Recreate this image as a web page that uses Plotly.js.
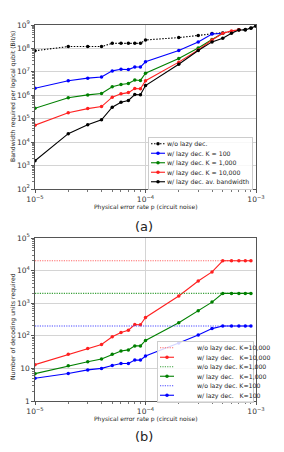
<!DOCTYPE html>
<html><head><meta charset="utf-8">
<script src="https://cdn.plot.ly/plotly-3.0.1.min.js"></script>
<style>html,body{margin:0;padding:0;background:#fff}#chart{width:284px;height:452px}</style>
</head><body><div id="chart"></div>
<script>
// ---------- panel (a): bandwidth ----------
const pFull = [1e-5,2e-5,3e-5,4e-5,5e-5,6e-5,7e-5,8e-5,9e-5,1e-4,2e-4,3e-4,4e-4,5e-4,6e-4,7e-4,8e-4,9e-4,1e-3];
const pTo5e4 = [1e-5,2e-5,3e-5,4e-5,5e-5,6e-5,7e-5,8e-5,9e-5,1e-4,2e-4,3e-4,4e-4,5e-4];
const pTo7e4 = [1e-5,2e-5,3e-5,4e-5,5e-5,6e-5,7e-5,8e-5,9e-5,1e-4,2e-4,3e-4,4e-4,5e-4,6e-4,7e-4];
const bwNoLazy = [8.0e7,1.2e8,1.2e8,1.2e8,1.65e8,1.65e8,1.65e8,1.65e8,1.65e8,2.3e8,2.9e8,3.6e8,4.3e8,4.6e8,5.2e8,6.2e8,6.4e8,7.4e8,9.0e8];
const bwK100 = [2.0e6,4.2e6,5.4e6,6.0e6,1.1e7,1.3e7,1.25e7,1.6e7,1.6e7,2.7e7,8.1e7,1.9e8,4.1e8,4.4e8];
const bwK1000 = [2.8e5,7.9e5,1.04e6,1.2e6,2.3e6,2.9e6,3.2e6,4.5e6,4.3e6,8.7e6,3.7e7,1.05e8,2.4e8,4.4e8];
const bwK10000 = [5.3e4,1.8e5,2.7e5,3.3e5,8.3e5,1.15e6,1.3e6,1.95e6,1.9e6,4.2e6,2.6e7,8.6e7,2.3e8,4.4e8,5.6e8,6.2e8];
const bwAv = [1.6e3,2.3e4,5.5e4,9.0e4,3.1e5,5.0e5,6.0e5,1.08e6,1.05e6,2.6e6,2.1e7,8.1e7,1.9e8,2.7e8,4.4e8,6.1e8,6.1e8,7.2e8,9.0e8];
const namesA = ['w/o lazy dec.','w/ lazy dec. K = 100','w/ lazy dec. K = 1,000','w/ lazy dec. K = 10,000','w/ lazy dec. av. bandwidth'];

// ---------- panel (b): decoding units ----------
const pB = [1e-5,2e-5,3e-5,4e-5,5e-5,6e-5,7e-5,8e-5,9e-5,1e-4,2e-4,3e-4,4e-4,5e-4,6e-4,7e-4,8e-4,9e-4];
const duNoLazy10000 = [2e4,2e4,2e4,2e4,2e4,2e4,2e4,2e4,2e4,2e4,2e4,2e4,2e4,2e4,2e4,2e4,2e4,2e4];
const duLazy10000 = [13,27,41,54,93,126,148,222,219,365,1660,4800,9100,2e4,2e4,2e4,2e4,2e4];
const duNoLazy1000 = [2e3,2e3,2e3,2e3,2e3,2e3,2e3,2e3,2e3,2e3,2e3,2e3,2e3,2e3,2e3,2e3,2e3,2e3];
const duLazy1000 = [6.9,12,16,19.4,27,34,37,49,49,72,250,590,1080,2e3,2e3,2e3,2e3,2e3];
const duNoLazy100 = [200,200,200,200,200,200,200,200,200,200,200,200,200,200,200,200,200,200];
const duLazy100 = [5,7,9,10,12.3,14.2,14.2,18,18,24,60,105,166,200,200,200,200,200];
const namesB = ['w/o lazy dec. K=10,000','w/ lazy dec.\u00a0\u00a0\u00a0K=10,000','w/o lazy dec. K=1,000','w/ lazy dec.\u00a0\u00a0\u00a0K=1,000','w/o lazy dec. K=100','w/ lazy dec.\u00a0\u00a0\u00a0K=100'];

// ---------- texts ----------
const xTitle = 'Physical error rate p (circuit noise)';
const yTitleA = 'Bandwidth required per logical qubit (Bit/s)';
const yTitleB = 'Number of decoding units required';

const F = 'DejaVu Sans, sans-serif';
function ln(x,y,name,color,dash,legend,xa,ya,mk){
  return {x:x,y:y,name:name,type:'scatter',mode:mk?'lines+markers':'lines',
    line:{color:color,width:1.1,dash:dash},marker:{color:color,size:3.5},
    legend:legend,xaxis:xa,yaxis:ya};
}
const data = [
  ln(pFull,bwNoLazy,namesA[0],'#000000','1.5px,1.5px','legend','x','y',true),
  ln(pTo5e4,bwK100,namesA[1],'#0000ff','solid','legend','x','y',true),
  ln(pTo5e4,bwK1000,namesA[2],'#008000','solid','legend','x','y',true),
  ln(pTo7e4,bwK10000,namesA[3],'#ff2020','solid','legend','x','y',true),
  ln(pFull,bwAv,namesA[4],'#000000','solid','legend','x','y',true),
  ln(pB,duNoLazy10000,namesB[0],'#ff6a6a','1.2px,1.2px','legend2','x2','y2',false),
  ln(pB,duLazy10000,namesB[1],'#ff2020','solid','legend2','x2','y2',true),
  ln(pB,duNoLazy1000,namesB[2],'#3aa03a','1.2px,1.2px','legend2','x2','y2',false),
  ln(pB,duLazy1000,namesB[3],'#008000','solid','legend2','x2','y2',true),
  ln(pB,duNoLazy100,namesB[4],'#4a4aff','1.2px,1.2px','legend2','x2','y2',false),
  ln(pB,duLazy100,namesB[5],'#0000ff','solid','legend2','x2','y2',true)
];
const xd=[35/284,256/284];
function ax(anchor,range,dom){return {type:'log',range:range,domain:dom,anchor:anchor,dtick:1,exponentformat:'power',automargin:false,
  showgrid:true,gridcolor:'#d4d4d4',gridwidth:1,showline:true,mirror:true,linecolor:'#555',linewidth:1,
  ticks:'outside',ticklen:3,tickcolor:'#555',tickfont:{size:6,color:'#333',family:F},zeroline:false,
  minor:{ticks:'outside',ticklen:1.8,tickcolor:'#777',showgrid:false}};}
const legBase={bgcolor:'rgba(255,255,255,0.9)',bordercolor:'#cccccc',borderwidth:1,font:{size:6.2,color:'#222',family:F},
  xanchor:'right',yanchor:'top',tracegroupgap:0,itemwidth:30,x:256/284};
function ann(text,xp,yp,size,angle){return {text:text,xref:'paper',yref:'paper',x:xp/284,y:1-yp/452,showarrow:false,
  textangle:angle||0,font:{size:size,color:'#222',family:F},xanchor:'center',yanchor:'middle'};}
const layout={width:284,height:452,margin:{l:0,r:0,t:0,b:0,autoexpand:false},paper_bgcolor:'#fff',plot_bgcolor:'#fff',
  font:{family:F},showlegend:true,
  xaxis:ax('y',[-5,-3],xd),yaxis:ax('x',[2,9],[1-189/452,1-25/452]),
  xaxis2:ax('y2',[-5,-3],xd),yaxis2:ax('x2',[0,5],[1-401/452,1-238/452]),
  legend:Object.assign({},legBase,{y:1-137/452}),
  legend2:Object.assign({},legBase,{y:1-240/452}),
  annotations:[
    ann(xTitle,146,207,6),ann(xTitle,146,419,6),
    ann(yTitleA,13,97,6.1,-90),ann(yTitleB,13,327,6.1,-90),
    ann('(a)',144,226,13),ann('(b)',144,436,13)
  ]};
function fixLegends(){
  const step=9.5;
  const cfg={legend:{left:148,top:137,w:104,tx:19},legend2:{left:157,top:341,w:96,tx:20}};
  Object.keys(cfg).forEach(function(id){
    const c=cfg[id];
    document.querySelectorAll('g.'+id).forEach(function(lg){
      const tr=lg.querySelectorAll('g.traces');
      if(!tr.length) return;
      tr.forEach(function(t,i){
        t.setAttribute('transform','translate(0,'+(step*i+step/2+2)+')');
        t.querySelectorAll('text.legendtext').forEach(function(tx){
          tx.setAttribute('x',c.tx);
          tx.querySelectorAll('tspan').forEach(function(ts){if(ts.hasAttribute('x'))ts.setAttribute('x',c.tx);});
        });
        t.querySelectorAll('g.legendlines path').forEach(function(p){p.setAttribute('d','M3,0h14');});
        t.querySelectorAll('g.legendpoints path').forEach(function(p){p.setAttribute('transform','translate(10,0)');});
        t.querySelectorAll('rect.legendtoggle').forEach(function(r){r.setAttribute('width',c.w);});
      });
      const h=step*tr.length+4;
      lg.querySelectorAll('rect.bg').forEach(function(r){
        r.setAttribute('x',0.5);r.setAttribute('y',0.5);
        r.setAttribute('width',c.w);r.setAttribute('height',h);
        r.style.fill='rgba(255,255,255,0.92)';r.style.stroke='#cccccc';r.style.strokeWidth='1px';
      });
      lg.querySelectorAll('g.scrollbox').forEach(function(s){s.removeAttribute('clip-path');s.setAttribute('transform','translate(0,0)');});
      lg.querySelectorAll('rect.scrollbar').forEach(function(s){s.style.display='none';});
      lg.setAttribute('transform','translate('+c.left+','+c.top+')');
    });
  });
}
Plotly.newPlot('chart',data,layout,{displayModeBar:false,staticPlot:true}).then(function(){
  fixLegends();
  setTimeout(fixLegends,200);
});
</script></body></html>
